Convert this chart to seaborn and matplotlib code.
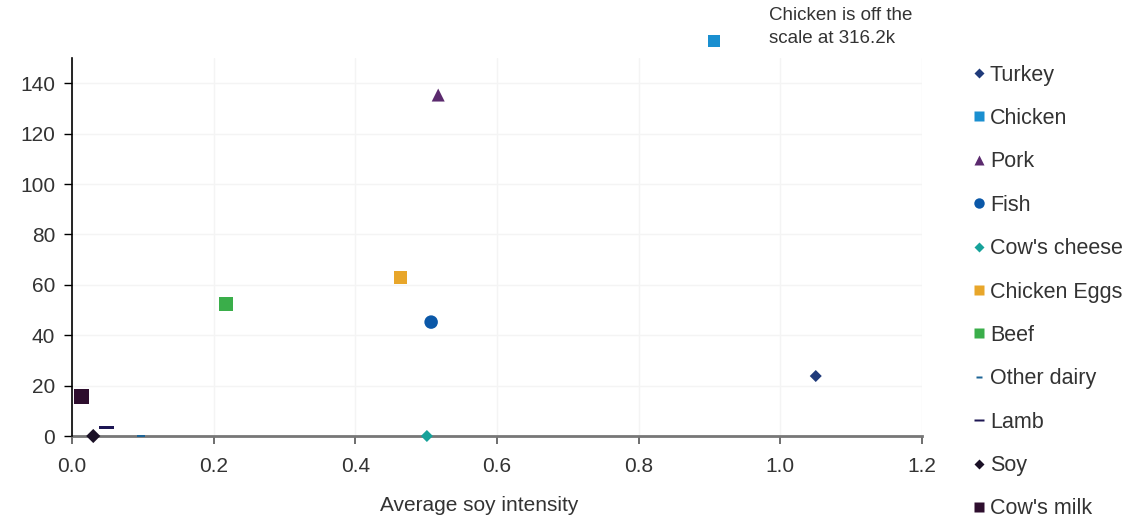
import matplotlib
matplotlib.use("Agg")
import matplotlib.pyplot as plt
import seaborn as sns
from matplotlib.lines import Line2D

# values (y in thousands, chicken drawn at its off-scale spot)
foods = ["Turkey", "Chicken", "Pork", "Fish", "Cow's cheese", "Chicken Eggs",
         "Beef", "Other dairy", "Lamb", "Soy", "Cow's milk"]
soy_intensity = [1.050, 0.906, 0.517, 0.507, 0.501, 0.464, 0.217, 0.097, 0.049, 0.030, 0.013]
emissions = [23.8, 156.7, 135.3, 45.2, 0.0, 62.7, 52.4, 0.0, 3.2, 0.0, 15.5]
colors = ["#1f3a7a", "#1a8fd0", "#5b2a6e", "#0b58a8", "#17a29a", "#e8a62a",
          "#3aae4a", "#1d6496", "#1d1653", "#1a1026", "#2e0e2e"]

x_ticks = [0.0, 0.2, 0.4, 0.6, 0.8, 1.0, 1.2]
y_ticks = [0, 20, 40, 60, 80, 100, 120, 140]

# marker styles: (marker, size in px on the chart, size in pt in the legend)
short_bar = [(-1, -0.35), (1, -0.35), (1, 0.35), (-1, 0.35), (-1, -0.35)]
long_bar = [(-1, -0.2), (1, -0.2), (1, 0.2), (-1, 0.2), (-1, -0.2)]
styles = {
    "Turkey": ("D", 8.5, 5.5),
    "Chicken": ("s", 12, 7.5),
    "Pork": ("^", 13, 7.5),
    "Fish": ("o", 13.5, 7.5),
    "Cow's cheese": ("D", 8.5, 5.5),
    "Chicken Eggs": ("s", 13, 7.5),
    "Beef": ("s", 14, 7.5),
    "Other dairy": (short_bar, 8, 5),
    "Lamb": (long_bar, 15, 7.5),
    "Soy": ("D", 10, 5.5),
    "Cow's milk": ("s", 15, 7.5),
}

sns.set_style("white")
plt.rcParams["font.family"] = ["Liberation Sans", "DejaVu Sans"]
text_color = "#333333"

fig = plt.figure(figsize=(11.28, 5.2), dpi=100)
ax = fig.add_axes([72 / 1128, 84 / 520, 850 / 1128, 378 / 520])

handles = []
for name, x, y, c in zip(foods, soy_intensity, emissions, colors):
    marker, px, leg = styles[name]
    pt = px * 0.72
    sns.scatterplot(x=[x], y=[y], ax=ax, marker=marker, s=pt ** 2, color=c,
                    edgecolor="none", linewidth=0, clip_on=False, zorder=3)
    handles.append(Line2D([], [], linestyle="none", marker=marker, markersize=leg,
                          markerfacecolor=c, markeredgecolor="none", label=name))

ax.set_xlim(0, 1.2)
ax.set_ylim(0, 150)
ax.set_xticks(x_ticks)
ax.set_xticklabels([f"{t:.1f}" for t in x_ticks])
ax.set_yticks(y_ticks)
ax.grid(True, color="#f4f4f4", linewidth=1)
ax.set_axisbelow(True)

for side in ["top", "right"]:
    ax.spines[side].set_visible(False)
ax.spines["left"].set_color("black")
ax.spines["left"].set_linewidth(1.2)
ax.spines["bottom"].set_color("#777777")
ax.spines["bottom"].set_linewidth(2)
ax.spines["bottom"].set_zorder(2)

ax.tick_params(axis="y", direction="out", length=6, width=1, color="black",
               labelsize=15, labelcolor=text_color, pad=6)
ax.tick_params(axis="x", direction="out", length=6, width=1.2, color="#555555",
               labelsize=15, labelcolor=text_color, pad=9)
ax.tick_params(left=True, bottom=True)

ax.set_xlabel("Average soy intensity", fontsize=15, color=text_color)
ax.xaxis.set_label_coords(0.479, -0.16)

ax.text(769 / 1128, 1 - 27 / 520, "Chicken is off the\nscale at 316.2k",
        transform=fig.transFigure, fontsize=13.5, color=text_color,
        ha="left", va="center", linespacing=1.45)

fig.legend(handles=handles, loc="upper left", bbox_to_anchor=(962 / 1128, 1 - 56 / 520),
           frameon=False, fontsize=15.5, labelspacing=1.04, handlelength=0.8,
           handletextpad=0.1, borderaxespad=0, labelcolor=text_color)

fig.savefig("out.png", dpi=100, facecolor="white")
